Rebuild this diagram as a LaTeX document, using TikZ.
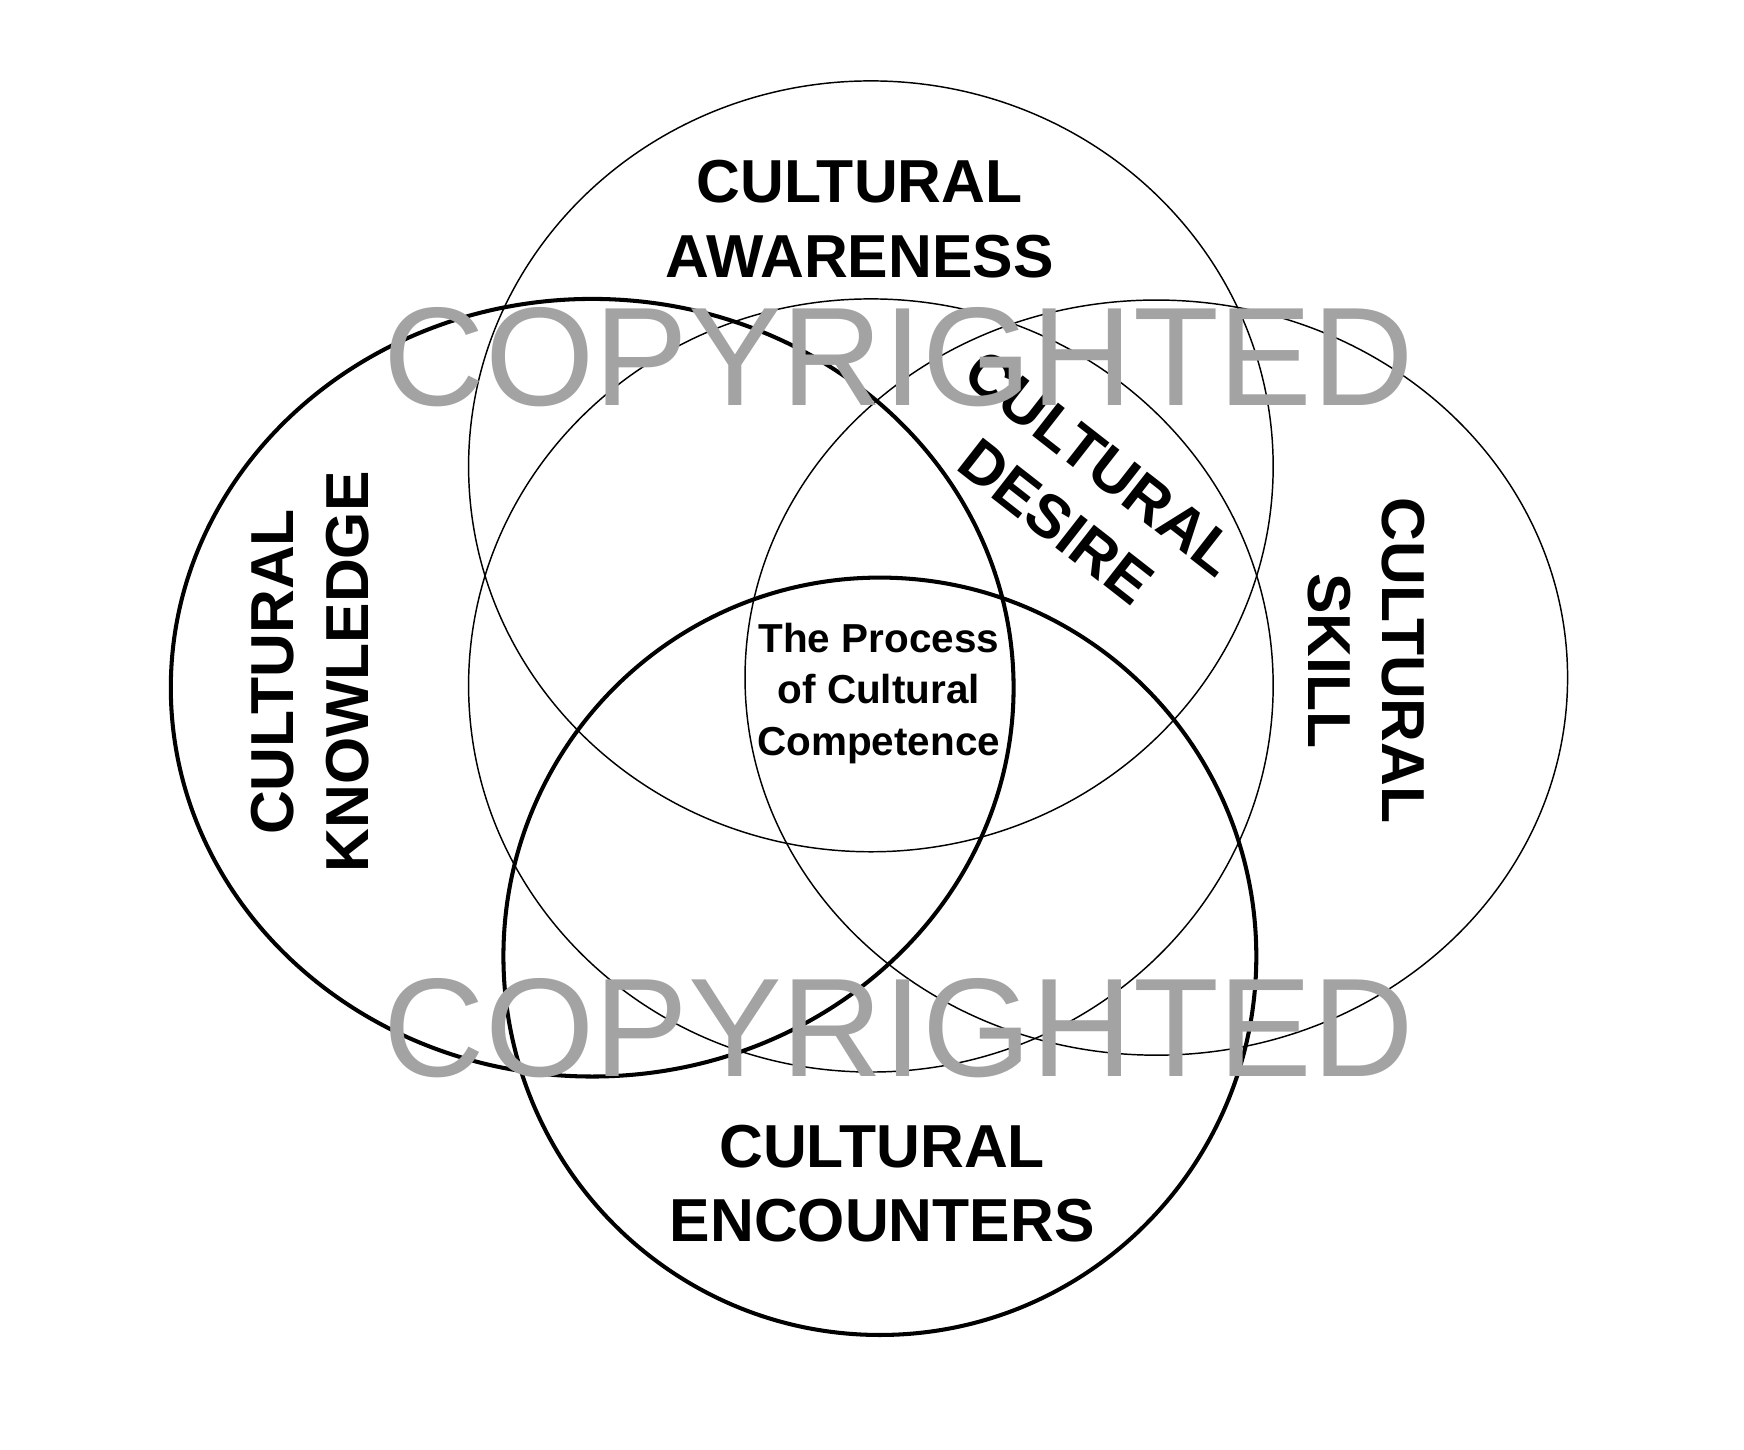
\documentclass[tikz,border=0pt]{standalone}
\usepackage{fontspec}
\setmainfont{Liberation Sans}
\begin{document}
\begin{tikzpicture}[x=1pt,y=-1pt,
  thin ring/.style={draw=black,line width=1.3pt},
  thick ring/.style={draw=black,line width=3.6pt},
  lab/.style={font=\bfseries\fontsize{54}{66}\selectfont,align=center,inner sep=0pt},
  mid/.style={font=\bfseries\fontsize{36}{46}\selectfont,align=center,inner sep=0pt},
  wm/.style={font=\fontsize{125}{125}\selectfont,text=black!36,inner sep=0pt}]
\useasboundingbox (0,0) rectangle (1552,1290);
\draw[thin ring] (775,415) ellipse [x radius=358,y radius=343];
\draw[thin ring] (775,610) ellipse [x radius=358,y radius=344];
\draw[thin ring] (1029,603) ellipse [x radius=366,y radius=336];
\draw[thick ring] (527,612) ellipse [x radius=375,y radius=346];
\draw[thick ring] (783,851) ellipse [x radius=335,y radius=337];
\node[lab] (aw) at (765,195) {CULTURAL\\AWARENESS};
\node[lab,rotate=-38] (de) at (960,438) {CULTURAL\\DESIRE};
\node[lab,rotate=90] (kn) at (276,598) {CULTURAL\\KNOWLEDGE};
\node[lab,rotate=-90] (sk) at (1216,588) {CULTURAL\\SKILL};
\node[lab] (en) at (785,1053) {CULTURAL\\ENCOUNTERS};
\node[mid] (pr) at (782,617) {The Process\\of Cultural\\Competence};
\node[wm] (w1) at (800,318) {COPYRIGHTED};
\node[wm] (w2) at (800,915) {COPYRIGHTED};
\end{tikzpicture}
\end{document}
